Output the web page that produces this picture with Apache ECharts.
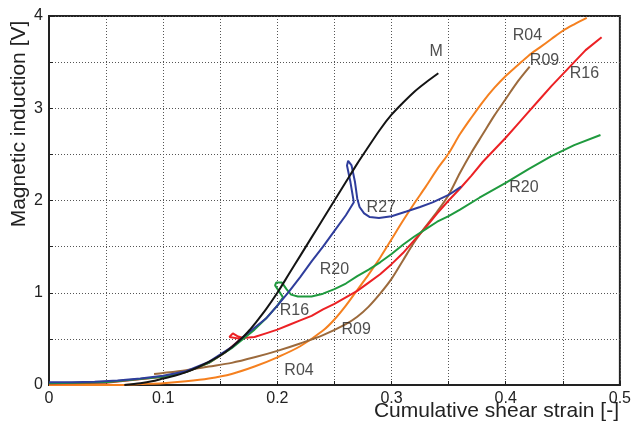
<!DOCTYPE html>
<html>
<head>
<meta charset="utf-8">
<style>
  html, body { margin: 0; padding: 0; background: #fff; }
  #chart { width: 634px; height: 426px; }
</style>
<script src="https://cdn.jsdelivr.net/npm/echarts@6/dist/echarts.min.js"></script>
</head>
<body>
<div id="chart"></div>
<script>
// Magnetic induction vs cumulative shear strain, one curve per sample
const xTicks = [0, 0.1, 0.2, 0.3, 0.4, 0.5];
const yTicks = [0, 1, 2, 3, 4];

const curveM = [
  [0.066, 0], [0.08, 0.02], [0.09, 0.04], [0.10, 0.07], [0.11, 0.1], [0.12, 0.14],
  [0.13, 0.19], [0.14, 0.25], [0.15, 0.32], [0.16, 0.41], [0.17, 0.52], [0.176, 0.6],
  [0.18, 0.66], [0.19, 0.82], [0.20, 1.0], [0.21, 1.2], [0.22, 1.4], [0.23, 1.6],
  [0.24, 1.8], [0.25, 2.0], [0.26, 2.2], [0.27, 2.4], [0.278, 2.55], [0.29, 2.77],
  [0.30, 2.93], [0.31, 3.06], [0.32, 3.18], [0.33, 3.28], [0.341, 3.38]
];
const curveR27 = [
  [0, 0.03], [0.02, 0.03], [0.04, 0.035], [0.06, 0.05], [0.08, 0.07], [0.10, 0.1],
  [0.12, 0.15], [0.14, 0.25], [0.16, 0.41], [0.17, 0.52], [0.18, 0.62], [0.19, 0.72],
  [0.20, 0.86], [0.21, 1.01], [0.22, 1.17], [0.23, 1.34], [0.24, 1.5], [0.25, 1.67],
  [0.26, 1.84], [0.267, 1.98], [0.264, 2.2], [0.261, 2.38], [0.262, 2.43], [0.265, 2.38],
  [0.268, 2.2], [0.27, 2.02], [0.272, 1.93], [0.276, 1.86], [0.281, 1.82], [0.289, 1.81],
  [0.30, 1.83], [0.313, 1.88], [0.325, 1.93], [0.336, 1.98], [0.35, 2.06], [0.361, 2.15]
];
const curveR20 = [
  [0, 0.02], [0.05, 0.03], [0.10, 0.09], [0.12, 0.14], [0.14, 0.24], [0.16, 0.4],
  [0.18, 0.6], [0.19, 0.72], [0.20, 0.86], [0.205, 0.95], [0.198, 1.08], [0.199, 1.11],
  [0.204, 1.11], [0.208, 1.04], [0.212, 0.98], [0.218, 0.96], [0.23, 0.96], [0.24, 0.99],
  [0.25, 1.04], [0.26, 1.1], [0.27, 1.18], [0.28, 1.25], [0.29, 1.33], [0.30, 1.42],
  [0.31, 1.52], [0.32, 1.61], [0.33, 1.69], [0.34, 1.77], [0.35, 1.83], [0.36, 1.9],
  [0.377, 2.03], [0.40, 2.19], [0.42, 2.34], [0.44, 2.48], [0.46, 2.6], [0.483, 2.71]
];
const curveR16 = [
  [0, 0.015], [0.05, 0.025], [0.10, 0.09], [0.12, 0.14], [0.14, 0.24], [0.155, 0.36],
  [0.168, 0.5], [0.158, 0.52], [0.161, 0.56], [0.165, 0.53], [0.17, 0.51], [0.18, 0.52],
  [0.19, 0.56], [0.20, 0.6], [0.21, 0.65], [0.22, 0.7], [0.23, 0.75], [0.24, 0.82],
  [0.25, 0.88], [0.26, 0.95], [0.27, 1.02], [0.28, 1.11], [0.29, 1.2], [0.30, 1.31],
  [0.31, 1.43], [0.32, 1.57], [0.33, 1.71], [0.34, 1.86], [0.35, 2.0], [0.36, 2.13],
  [0.37, 2.27], [0.38, 2.42], [0.39, 2.55], [0.40, 2.68], [0.41, 2.82], [0.42, 2.96],
  [0.43, 3.1], [0.44, 3.24], [0.45, 3.37], [0.46, 3.5], [0.47, 3.63], [0.484, 3.77]
];
const curveR09 = [
  [0.092, 0.12], [0.10, 0.13], [0.12, 0.16], [0.14, 0.2], [0.16, 0.24], [0.18, 0.3],
  [0.20, 0.37], [0.22, 0.45], [0.24, 0.54], [0.26, 0.66], [0.27, 0.74], [0.28, 0.85],
  [0.29, 0.99], [0.30, 1.15], [0.31, 1.35], [0.32, 1.55], [0.33, 1.72], [0.34, 1.88],
  [0.35, 2.06], [0.36, 2.3], [0.37, 2.52], [0.38, 2.72], [0.39, 2.92], [0.40, 3.1],
  [0.41, 3.28], [0.421, 3.45]
];
const curveR04 = [
  [0, 0], [0.06, 0], [0.08, 0.01], [0.10, 0.02], [0.12, 0.04], [0.14, 0.07], [0.16, 0.12],
  [0.18, 0.2], [0.20, 0.3], [0.22, 0.42], [0.24, 0.59], [0.25, 0.71], [0.26, 0.86],
  [0.27, 1.03], [0.28, 1.2], [0.29, 1.38], [0.30, 1.58], [0.31, 1.78], [0.32, 1.97],
  [0.33, 2.15], [0.34, 2.34], [0.35, 2.51], [0.36, 2.72], [0.37, 2.9], [0.38, 3.07],
  [0.39, 3.22], [0.40, 3.35], [0.41, 3.46], [0.42, 3.57], [0.43, 3.66], [0.44, 3.75],
  [0.45, 3.84], [0.46, 3.91], [0.471, 3.98]
];

// curve annotations, placed in data coordinates
const labelNames = ['M', 'R04', 'R09', 'R16', 'R20', 'R27', 'R20', 'R16', 'R09', 'R04'];
const labelX = [0.339, 0.419, 0.434, 0.469, 0.416, 0.291, 0.250, 0.215, 0.269, 0.219];
const labelY = [3.61, 3.79, 3.52, 3.38, 2.14, 1.92, 1.25, 0.81, 0.60, 0.16];

const colors = {
  M: '#141414', R27: '#2f3d9c', R20: '#1f9a3e', R16: '#ec2124', R09: '#9c6a3c', R04: '#f5801f'
};

const gridLine = { show: true, lineStyle: { color: '#555', width: 1, type: [1, 2] } };

function lineSeries(name, data, smooth) {
  return {
    name, type: 'line', data, showSymbol: false, smooth: smooth || false,
    lineStyle: { color: colors[name], width: 2 }, itemStyle: { color: colors[name] },
    animation: false, z: 3
  };
}

const chart = echarts.init(document.getElementById('chart'), null, { renderer: 'canvas' });
chart.setOption({
  backgroundColor: '#fff',
  animation: false,
  grid: { left: 49, right: 13, top: 16, bottom: 41, show: true, borderColor: '#222', borderWidth: 2 },
  xAxis: {
    type: 'value', min: xTicks[0], max: xTicks[xTicks.length - 1], interval: 0.1,
    axisLine: { show: true, lineStyle: { color: '#222', width: 2 } },
    axisTick: { show: true, inside: true, length: 4, lineStyle: { color: '#222' } },
    minorTick: { show: true, splitNumber: 2, length: 4, lineStyle: { color: '#222' } },
    axisLabel: {
      margin: 6, color: '#222', fontSize: 16, fontFamily: 'Liberation Sans, Arial',
      formatter: v => (Math.abs(v) < 1e-9 ? '0' : (+v.toFixed(1)).toString())
    },
    splitLine: gridLine,
    minorSplitLine: gridLine
  },
  yAxis: {
    type: 'value', min: yTicks[0], max: yTicks[yTicks.length - 1], interval: 1,
    axisLine: { show: true, lineStyle: { color: '#222', width: 2 } },
    axisTick: { show: true, inside: true, length: 4, lineStyle: { color: '#222' } },
    minorTick: { show: true, splitNumber: 2, length: 4, lineStyle: { color: '#222' } },
    axisLabel: { margin: 6, color: '#222', fontSize: 16, fontFamily: 'Liberation Sans, Arial' },
    splitLine: gridLine,
    minorSplitLine: gridLine
  },
  graphic: [
    {
      type: 'text', x: 619, y: 411,
      style: {
        text: 'Cumulative shear strain [-]', fill: '#222',
        font: '21px "Liberation Sans", Arial', align: 'right', verticalAlign: 'middle'
      }
    },
    {
      type: 'text', x: 19, y: 124, rotation: Math.PI / 2,
      style: {
        text: 'Magnetic induction [V]', fill: '#222',
        font: '21px "Liberation Sans", Arial', align: 'center', verticalAlign: 'middle'
      }
    }
  ],
  series: [
    lineSeries('R04', curveR04, 0.3),
    lineSeries('R09', curveR09, 0.3),
    lineSeries('R16', curveR16),
    lineSeries('R20', curveR20),
    lineSeries('R27', curveR27),
    lineSeries('M', curveM, 0.3),
    {
      name: 'labels', type: 'scatter', symbolSize: 0, z: 5, silent: true,
      data: labelNames.map((n, i) => ({ name: n, value: [labelX[i], labelY[i]] })),
      label: {
        show: true, position: 'inside', formatter: p => p.name,
        color: '#222', fontSize: 16, fontFamily: 'Liberation Sans, Arial'
      }
    }
  ]
});
</script>
</body>
</html>
